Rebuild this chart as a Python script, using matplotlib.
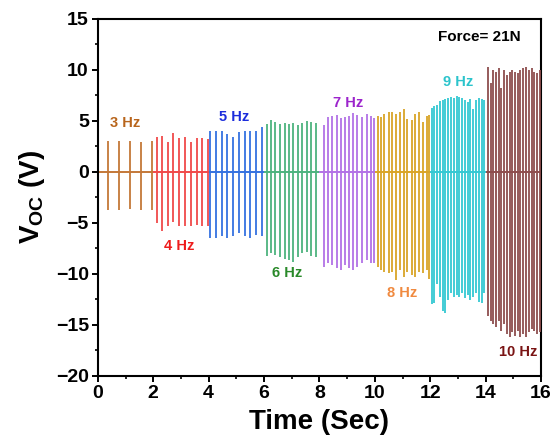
import numpy as np
import matplotlib
matplotlib.use("Agg")
import matplotlib.pyplot as plt
from matplotlib.ticker import MultipleLocator

# ── data ──────────────────────────────────────────────────────
freq_labels = ["3 Hz", "4 Hz", "5 Hz", "6 Hz", "7 Hz", "8 Hz", "9 Hz", "10 Hz"]
seg_start = [0, 2, 4, 6, 8, 10, 12, 14]
seg_end = [2, 4, 6, 8, 10, 12, 14, 16]

t_3hz = [0.37, 0.77, 1.16, 1.55, 1.94]
pos_3hz = [3.0, 3.0, 3.0, 2.9, 3.0]
neg_3hz = [-3.7, -3.7, -3.6, -3.7, -3.7]

t_4hz = [2.13, 2.32, 2.54, 2.73, 2.94, 3.15, 3.36, 3.57, 3.77, 3.96]
pos_4hz = [3.4, 3.5, 2.9, 3.8, 3.3, 3.4, 2.9, 3.3, 3.3, 3.2]
neg_4hz = [-5.0, -5.8, -5.3, -4.9, -5.3, -5.3, -5.3, -5.2, -5.3, -5.3]

t_5hz = [4.06, 4.26, 4.48, 4.68, 4.88, 5.08, 5.30, 5.51, 5.71, 5.93]
pos_5hz = [4.0, 4.05, 4.05, 3.7, 3.4, 3.9, 4.0, 4.0, 4.0, 4.4]
neg_5hz = [-6.5, -6.5, -6.3, -6.5, -6.3, -6.0, -6.3, -6.5, -6.2, -6.3]

t_6hz = [6.09, 6.26, 6.41, 6.57, 6.74, 6.90, 7.05, 7.22, 7.38, 7.54, 7.71, 7.86]
pos_6hz = [4.7, 5.05, 4.9, 4.7, 4.8, 4.7, 4.8, 4.55, 4.8, 4.95, 4.9, 4.8]
neg_6hz = [-8.25, -8.0, -8.15, -8.3, -8.5, -8.65, -8.8, -8.3, -8.0, -7.9, -8.25, -8.3]

t_7hz = [8.16, 8.32, 8.47, 8.62, 8.77, 8.92, 9.07, 9.23, 9.37, 9.53, 9.71, 9.86, 9.98]
pos_7hz = [4.6, 5.4, 5.5, 5.6, 5.3, 5.4, 5.5, 5.8, 5.6, 5.4, 5.7, 5.5, 5.3]
neg_7hz = [-9.3, -8.9, -9.1, -9.45, -9.6, -9.1, -9.45, -9.6, -9.3, -8.95, -8.6, -8.95, -8.9]

t_8hz = [10.10, 10.22, 10.34, 10.50, 10.62, 10.76, 10.92, 11.06, 11.18, 11.34,
         11.46, 11.61, 11.75, 11.88, 11.97]
pos_8hz = [5.5, 5.4, 5.7, 5.9, 5.9, 5.7, 5.9, 6.2, 5.2, 5.05, 5.7, 5.9, 4.9, 5.5, 5.6]
neg_8hz = [-9.3, -9.6, -9.8, -9.96, -9.8, -10.6, -9.6, -10.3, -9.8, -10.1,
           -10.3, -9.8, -9.96, -9.6, -10.5]

t_9hz = [12.05, 12.15, 12.25, 12.36, 12.45, 12.55, 12.66, 12.75, 12.85, 12.96,
         13.05, 13.15, 13.26, 13.36, 13.45, 13.56, 13.66, 13.75, 13.86, 13.96]
pos_9hz = [6.3, 6.5, 6.6, 6.9, 7.0, 7.1, 7.2, 7.3, 7.2, 7.4,
           7.3, 7.2, 7.0, 6.8, 7.1, 6.2, 7.0, 7.2, 7.1, 7.0]
neg_9hz = [-13.0, -12.9, -10.95, -12.3, -13.6, -13.8, -12.6, -11.9, -12.3, -12.1,
           -12.3, -11.9, -12.4, -12.1, -12.6, -12.3, -11.9, -12.8, -12.9, -11.9]

t_10hz = [14.08, 14.18, 14.28, 14.38, 14.47, 14.57, 14.67, 14.77, 14.87, 14.97,
          15.06, 15.16, 15.26, 15.36, 15.46, 15.56, 15.66, 15.75, 15.85, 15.95]
pos_10hz = [10.3, 8.7, 10.0, 9.8, 10.2, 8.2, 10.0, 9.5, 9.8, 10.0,
            9.8, 9.7, 10.0, 10.2, 10.3, 10.0, 10.2, 9.8, 9.7, 10.0]
neg_10hz = [-14.1, -14.6, -14.9, -15.2, -14.6, -15.6, -14.9, -15.9, -16.2, -15.7,
            -16.1, -15.6, -16.2, -15.9, -16.2, -15.7, -15.4, -15.6, -15.9, -15.7]

# label anchor positions (data coords)
label_x = [1.0, 2.92, 4.93, 6.84, 9.03, 11.0, 13.0, 15.17]
label_y = [4.8, -7.3, 5.4, -9.9, 6.7, -11.9, 8.85, -17.7]

# ── colours ───────────────────────────────────────────────────
LINE_C = ["#C47838", "#F04A4A", "#3572E0", "#4DB37E",
          "#B272E6", "#D9A528", "#34C8D2", "#8E4E4E"]
TEXT_C = ["#B8651C", "#EE1C1C", "#1C2DDC", "#2A8A2A",
          "#9C24CC", "#F08A40", "#2CC4CC", "#7A1414"]

times = [t_3hz, t_4hz, t_5hz, t_6hz, t_7hz, t_8hz, t_9hz, t_10hz]
pos = [pos_3hz, pos_4hz, pos_5hz, pos_6hz, pos_7hz, pos_8hz, pos_9hz, pos_10hz]
neg = [neg_3hz, neg_4hz, neg_5hz, neg_6hz, neg_7hz, neg_8hz, neg_9hz, neg_10hz]

plt.rcParams["font.family"] = ["Liberation Sans", "DejaVu Sans"]
plt.rcParams["font.weight"] = "bold"
plt.rcParams["mathtext.fontset"] = "custom"
plt.rcParams["mathtext.rm"] = "Liberation Sans:bold"
plt.rcParams["mathtext.default"] = "rm"

fig = plt.figure(figsize=(5.56, 4.48), dpi=100)
ax = fig.add_axes([0.176, 0.161, 0.797, 0.797])

for i in range(len(freq_labels)):
    ax.hlines(0, seg_start[i], seg_end[i], color=LINE_C[i], lw=1.4, zorder=2)
    ax.vlines(times[i], neg[i], pos[i], color=LINE_C[i], lw=1.3, zorder=3)
    ax.text(label_x[i], label_y[i], freq_labels[i], color=TEXT_C[i],
            fontsize=10.5, fontweight="bold", ha="center", va="center")

ax.text(13.78, 13.2, "Force= 21N", fontsize=11, fontweight="bold",
        ha="center", va="center", color="black")

ax.set_xlim(0, 16)
ax.set_ylim(-20, 15)
ax.xaxis.set_major_locator(MultipleLocator(2))
ax.xaxis.set_minor_locator(MultipleLocator(1))
ax.yaxis.set_major_locator(MultipleLocator(5))
ax.yaxis.set_minor_locator(MultipleLocator(2.5))
ax.tick_params(which="major", direction="out", length=4.5, width=1.4,
               labelsize=14, pad=2)
ax.tick_params(which="minor", direction="out", length=2.5, width=1.2)
for lab in ax.get_xticklabels() + ax.get_yticklabels():
    lab.set_fontweight("bold")
for sp in ax.spines.values():
    sp.set_linewidth(1.5)

ax.set_xlabel("Time (Sec)", fontsize=20, fontweight="bold", labelpad=5)
ax.set_ylabel("V$_{OC}$ (V)", fontsize=20, fontweight="bold", labelpad=6)

fig.savefig("out.png", dpi=100)
